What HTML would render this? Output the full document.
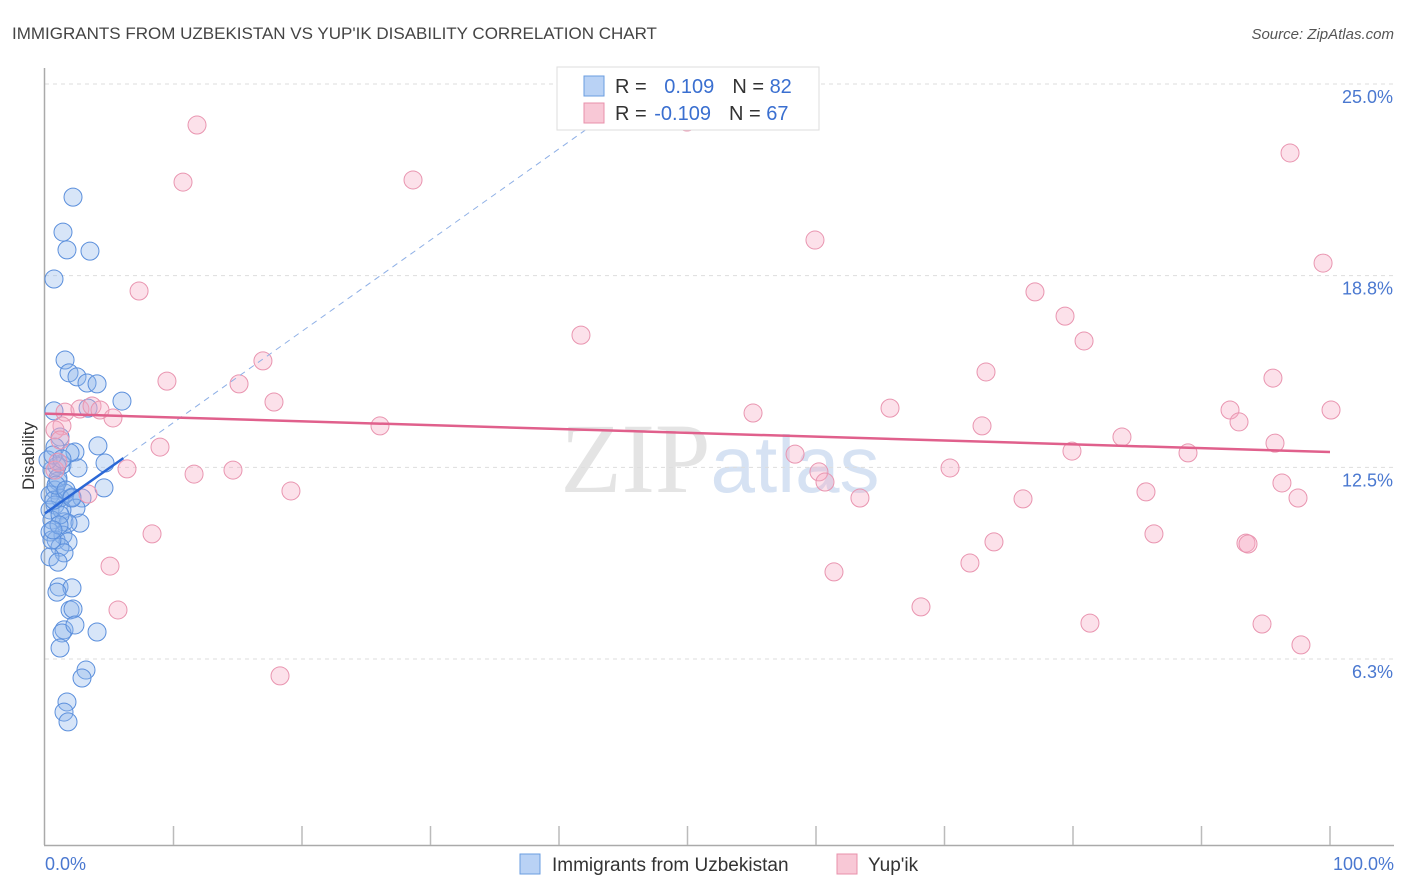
<!DOCTYPE html>
<html><head><meta charset="utf-8">
<style>
body{margin:0;background:#fff;font-family:"Liberation Sans",sans-serif;}
svg{display:block}
</style></head>
<body>
<svg id="chart" width="1406" height="892" xmlns="http://www.w3.org/2000/svg">
<text x="12" y="39" font-size="17" fill="#444">IMMIGRANTS FROM UZBEKISTAN VS YUP'IK DISABILITY CORRELATION CHART</text>
<text x="1394" y="39" font-size="15" fill="#555" text-anchor="end" font-style="italic">Source: ZipAtlas.com</text>
<text x="720" y="492" font-size="100" fill="#e4e4e4" text-anchor="middle" font-family="Liberation Serif,serif">ZIP<tspan fill="#d6e2f3" font-family="Liberation Sans,sans-serif" font-size="80">atlas</tspan></text>
<g id="grid"></g>
<line x1="44.5" y1="68" x2="44.5" y2="845" stroke="#aaa" stroke-width="1.5"/>
<line x1="44" y1="845.5" x2="1394" y2="845.5" stroke="#aaa" stroke-width="1.5"/>
<g id="xticks"></g>
<text transform="translate(34,456) rotate(-90)" font-size="17" fill="#333" text-anchor="middle">Disability</text>
<text x="45" y="870" font-size="18" fill="#4a78d0">0.0%</text>
<text x="1394" y="870" font-size="18" fill="#4a78d0" text-anchor="end">100.0%</text>
<g id="pts"></g>
<g id="trends"></g>
<g>
<rect x="557" y="67" width="262" height="63" fill="#fff" stroke="#ddd"/>
<rect x="584" y="76" width="20" height="20" fill="#b9d2f5" stroke="#6a9de0"/>
<rect x="584" y="103" width="20" height="20" fill="#f8c8d6" stroke="#e890ab"/>
<text x="615" y="93" font-size="20" fill="#333">R = <tspan fill="#3a6fd0" dx="12">0.109</tspan><tspan dx="18" fill="#333">N = </tspan><tspan fill="#3a6fd0">82</tspan></text>
<text x="615" y="120" font-size="20" fill="#333">R = <tspan fill="#3a6fd0" dx="2">-0.109</tspan><tspan dx="18" fill="#333">N = </tspan><tspan fill="#3a6fd0">67</tspan></text>
</g>
<g>
<rect x="520" y="854" width="20" height="20" fill="#b9d2f5" stroke="#6a9de0"/>
<text x="552" y="871" font-size="19" fill="#333">Immigrants from Uzbekistan</text>
<rect x="837" y="854" width="20" height="20" fill="#f8c8d6" stroke="#e890ab"/>
<text x="868" y="871" font-size="19" fill="#333">Yup'ik</text>
</g>
</svg>
<script>
const yTicks=[25,18.75,12.5,6.25];
const yTickLabels=["25.0%","18.8%","12.5%","6.3%"];
const xTicks=[10,20,30,40,50,60,70,80,90,100];
const bluePx=[[73,197],[63,232],[67,250],[90,251],[54,279],[65,360],[69,373],[77,377],[87,383],[97,384],[122,401],[54,411],[88,408],[98,446],[60,437],[75,452],[62,465],[78,468],[105,463],[57,466],[52,470],[58,481],[104,488],[55,490],[65,493],[50,495],[60,498],[72,497],[82,498],[55,505],[76,508],[50,510],[62,510],[52,520],[64,522],[80,523],[68,523],[50,532],[63,535],[56,540],[68,542],[60,547],[64,553],[50,557],[58,562],[59,587],[72,588],[57,592],[70,610],[73,609],[64,630],[62,633],[97,632],[75,625],[60,648],[86,670],[82,678],[67,702],[64,712],[68,722],[60,515],[54,500],[58,478],[70,453],[55,447],[48,460],[53,455],[56,485],[66,490],[52,540],[72,498],[59,525],[62,459],[53,530]];
const pinkPx=[[197,125],[183,182],[413,180],[687,122],[1290,153],[815,240],[1323,263],[139,291],[581,335],[1035,292],[1065,316],[1084,341],[263,361],[986,372],[1273,378],[167,381],[239,384],[274,402],[753,413],[890,408],[1230,410],[1331,410],[1239,422],[65,412],[80,409],[92,406],[100,410],[113,418],[62,426],[380,426],[982,426],[1122,437],[160,447],[1275,443],[795,454],[1072,451],[1188,453],[127,469],[194,474],[233,470],[819,472],[950,468],[825,482],[1282,483],[291,491],[88,494],[860,498],[1023,499],[1146,492],[1298,498],[152,534],[994,542],[1154,534],[1246,543],[1248,544],[110,566],[834,572],[970,563],[118,610],[921,607],[1090,623],[1262,624],[1301,645],[280,676],[55,430],[55,470],[60,440],[58,462]];
const blueX=bluePx.map(p=>+((p[0]-45)/12.85).toFixed(2));
const blueY=bluePx.map(p=>+((850.7-p[1])/30.67).toFixed(2));
const pinkX=pinkPx.map(p=>+((p[0]-45)/12.85).toFixed(2));
const pinkY=pinkPx.map(p=>+((850.7-p[1])/30.67).toFixed(2));
const blueTrend=[[0,11.0],[6.1,12.8]];
const blueDash=[[6.1,12.8],[42.4,23.6]];
const pinkTrend=[[0,14.25],[100,13.0]];
const NS="http://www.w3.org/2000/svg";
const sx=v=>45+v*12.85, sy=v=>850.7-v*30.67;
function mk(tag,attrs,parent){const e=document.createElementNS(NS,tag);for(const k in attrs)e.setAttribute(k,attrs[k]);parent.appendChild(e);return e;}
const grid=document.getElementById('grid');
yTicks.forEach((t,i)=>{
 const l=mk('line',{x1:45,x2:1394,y1:sy(t),y2:sy(t),stroke:'#ddd','stroke-dasharray':'4,4'},grid);
 
 
 const tx=mk('text',{x:1393,y:sy(t)+19,'font-size':18,fill:'#4a78d0','text-anchor':'end'},grid);
 tx.textContent=yTickLabels[i];
 
 
});
const xt=document.getElementById('xticks');
xTicks.forEach(t=>{
 const l=mk('line',{x1:sx(t),x2:sx(t),y1:826,y2:845,stroke:'#bbb','stroke-width':1.5},xt);
 
 
});
const pts=document.getElementById('pts');
blueX.forEach((x,i)=>{
 const c=mk('circle',{cx:sx(x),cy:sy(blueY[i]),r:9,fill:'rgba(140,180,235,0.35)',stroke:'#5b8fdc','stroke-width':1},pts);
 
 
});
pinkX.forEach((x,i)=>{
 const c=mk('circle',{cx:sx(x),cy:sy(pinkY[i]),r:9,fill:'rgba(245,170,195,0.35)',stroke:'#e995b0','stroke-width':1},pts);
 
 
});
const tr=document.getElementById('trends');
let l1=mk('line',{x1:sx(blueDash[0][0]),y1:sy(blueDash[0][1]),x2:sx(blueDash[1][0]),y2:sy(blueDash[1][1]),stroke:'#8fb0e6','stroke-width':1,'stroke-dasharray':'6,5'},tr);


let l2=mk('line',{x1:sx(blueTrend[0][0]),y1:sy(blueTrend[0][1]),x2:sx(blueTrend[1][0]),y2:sy(blueTrend[1][1]),stroke:'#2a67d6','stroke-width':2.5},tr);


let l3=mk('line',{x1:sx(pinkTrend[0][0]),y1:sy(pinkTrend[0][1]),x2:sx(pinkTrend[1][0]),y2:sy(pinkTrend[1][1]),stroke:'#e0608c','stroke-width':2.5},tr);


</script>
</body></html>
